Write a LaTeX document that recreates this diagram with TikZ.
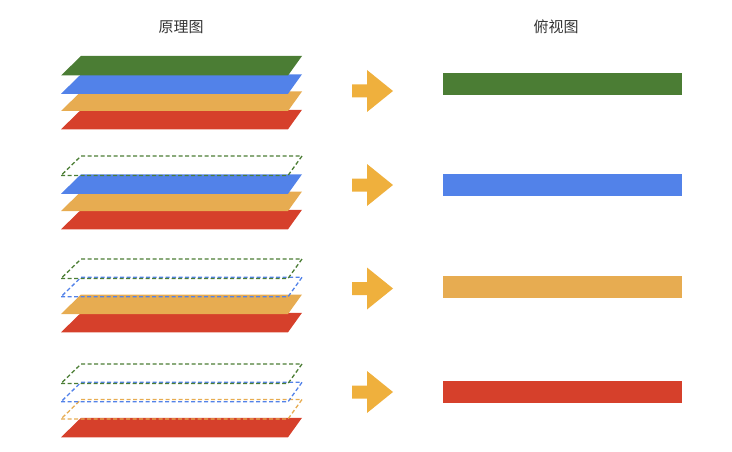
\documentclass[tikz,border=0pt]{standalone}
\usepackage{fontspec}
\newfontfamily\cjk{Noto Sans CJK SC}
\definecolor{lgreen}{HTML}{4B7D34}
\definecolor{lblue}{HTML}{5282E9}
\definecolor{lorange}{HTML}{E7AC51}
\definecolor{lred}{HTML}{D6402B}
\definecolor{arrowc}{HTML}{EFB03D}
\tikzset{
  title/.style={font=\cjk\fontsize{15}{15}\selectfont, text=black!80},
  ghost/.style={line width=1.3pt, dash pattern=on 4pt off 2.5pt}
}

\begin{document}
\begin{tikzpicture}[x=1pt,y=-1pt]
    \useasboundingbox (0,0) rectangle (732,452);
    % column headings
    \node[title] (yuanli) at (181,27) {原理图};
    \node[title] (fushi) at (556,27) {俯视图};
    % one row per group: layer stack, arrow, top view bar
    \foreach \gy/\ay/\by/\bc [count=\i] in {56/91/84/lgreen, 156/185/185/lblue, 259/288.5/287/lorange, 364/392/392/lred} {
        % layers from bottom to top
        \foreach \j/\c/\off in {4/lred/53.8, 3/lorange/35.5, 2/lblue/18.3, 1/lgreen/0} {
            \ifnum\j<\i
                \draw[ghost, \c] (61,{\gy+\off+19.5}) -- (288,{\gy+\off+19.5}) -- (302,{\gy+\off}) -- (81,{\gy+\off}) -- cycle;
            \else
                \fill[\c] (61,{\gy+\off+19.5}) -- (288,{\gy+\off+19.5}) -- (302,{\gy+\off}) -- (81,{\gy+\off}) -- cycle;
            \fi
        }
        % block arrow
        \fill[arrowc] (352,{\ay-6.5}) -- (367,{\ay-6.5}) -- (367,{\ay-21}) -- (393,\ay)
            -- (367,{\ay+21}) -- (367,{\ay+6.5}) -- (352,{\ay+6.5}) -- cycle;
        % seen from above
        \fill[\bc] (443,{\by-11}) rectangle (682,{\by+11});
    }
\end{tikzpicture}
\end{document}
